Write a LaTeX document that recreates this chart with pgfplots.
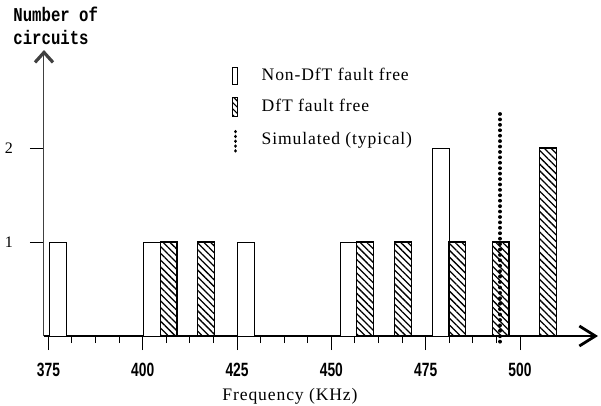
\documentclass[border=0pt]{standalone}
\usepackage{fontspec}
\setmainfont{Liberation Serif}
\newfontfamily\legfont[LetterSpace=5]{Liberation Serif}
\newfontfamily\tickfont[FakeStretch=0.72]{Liberation Sans}
\newfontfamily\ylabfont[FakeStretch=0.8]{Liberation Mono}
\usepackage{pgfplots}
\pgfplotsset{compat=1.18}
\usetikzlibrary{arrows.meta,patterns.meta}

\begin{document}
\begin{tikzpicture}
\begin{axis}[
 name=ax,
 scale only axis, width=277pt, height=143pt,
 xmin=373.83, xmax=520.67, ymin=0, ymax=3.043,
 axis lines=left,
 x axis line style={line width=0.8pt,-{Straight Barb[length=8pt,width=10pt,line width=1.4pt]}},
 y axis line style={line width=0.5pt, draw=black!75, -{Straight Barb[length=5pt,width=9pt,line width=1.6pt]}},
 xtick={375,400,...,500},
 minor x tick num=3,
 ytick={1,2},
 tick align=outside,
 major tick length=7pt,
 minor tick length=3.5pt,
 every tick/.style={black, line width=0.5pt},
 /pgf/number format/assume math mode=true,
 xticklabel style={font=\tickfont\bfseries\fontsize{9.6}{10}\selectfont, yshift=-3pt},
 yticklabel style={font=\fontsize{8}{9}\selectfont, xshift=-5pt},
 ylabel={Number of\\circuits},
 every axis y label/.style={at={(axis description cs:-0.056,1.150)}, anchor=north west, align=left, inner sep=0pt, font=\ylabfont\bfseries\fontsize{9.8}{11.5}\selectfont},
 xlabel={Frequency (KHz)},
 every axis x label/.style={at={(axis description cs:0.444,-0.212)}, anchor=center, inner sep=0pt, font=\legfont\fontsize{8.8}{10}\selectfont},
 clip=false,
 legend style={at={(axis description cs:0.339,0.952)}, anchor=north west, draw=none, fill=none, font=\legfont\fontsize{8.8}{10}\selectfont, row sep=3.8pt, inner sep=0pt, cells={anchor=west}},
]
\addplot[ybar, bar width=4.4, bar shift=0pt, draw=black, line width=0.5pt, fill=white,
  legend image code/.code={\draw[black, fill=white, line width=0.5pt] (0pt,-4.25pt) rectangle (2.5pt,4.25pt); \path (11.5pt,0pt);}]
  coordinates {(377.5,1) (402.5,1) (427.4,1) (454.5,1) (479.0,2)};
\addplot[ybar, bar width=4.4, bar shift=0pt, draw=black, line width=0.6pt,
  pattern={Lines[angle=-45,distance=2.4pt,line width=0.65pt]},
  legend image code/.code={\draw[black, line width=0.6pt, pattern={Lines[angle=-45,distance=2.2pt,line width=0.6pt]}] (0pt,-4.75pt) rectangle (2.5pt,4.75pt); \path (11.5pt,0pt);}]
  coordinates {(406.9,1) (416.8,1) (458.9,1) (469.0,1) (483.4,1) (494.9,1) (507.4,2)};
\addplot[black, line width=1.9pt, dash pattern=on 0.01pt off 2.7pt, line cap=round,
  legend image code/.code={\draw[black, line width=1.8pt, dash pattern=on 0.01pt off 2.4pt, line cap=round] (1.25pt,-5.75pt) -- (1.25pt,5.75pt); \path (11.5pt,0pt);}]
  coordinates {(494.7,-0.06) (494.7,2.41)};
\legend{Non-DfT fault free, DfT fault free, Simulated (typical)}
\end{axis}
\pgfresetboundingbox
\path[use as bounding box] (ax.south west) ++(-22pt,-34.5pt) rectangle ([shift={(1.5pt,25pt)}]ax.north east);
\end{tikzpicture}
\end{document}
